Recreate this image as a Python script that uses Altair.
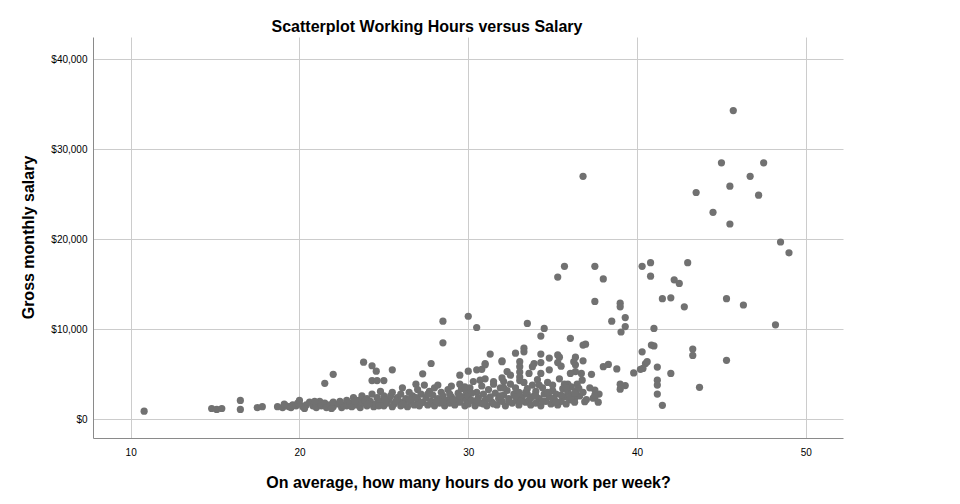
import altair as alt
import pandas as pd

# (hours per week, gross monthly salary in $)
high_pay = [
    (45.7, 34300), (36.8, 27000), (45.0, 28500), (47.5, 28500), (46.7, 27000),
    (43.5, 25200), (45.5, 25900), (47.2, 24900), (44.5, 23000), (45.5, 21700),
    (48.5, 19700), (49.0, 18500), (35.3, 15800), (35.7, 17000), (37.5, 17000),
    (38.0, 15600), (40.3, 17000), (40.8, 17400), (40.8, 15900), (43.0, 17400),
    (42.2, 15500), (42.5, 15100), (41.5, 13400), (42.0, 13500), (42.8, 12500),
    (45.3, 13400), (46.3, 12700), (37.5, 13100), (39.0, 12900), (39.0, 12500),
]

upper_mid = [
    (48.2, 10500), (39.3, 11300), (38.5, 10900), (39.3, 10300), (39.05, 9700),
    (41.0, 10100), (40.3, 7500), (40.85, 8250), (41.0, 8150), (43.3, 7800),
    (43.3, 7100), (28.5, 10900), (28.5, 8500), (30.0, 11450), (30.5, 10200),
    (33.5, 10650), (34.5, 10100), (34.3, 9250), (36.05, 9000), (36.8, 8250),
    (36.95, 8350), (31.3, 7250), (32.8, 7350), (33.3, 7900), (33.3, 7500),
    (34.3, 7250), (35.3, 7150),
]

right_side = [
    (45.3, 6550), (43.7, 3550), (41.2, 4350), (41.2, 3800), (41.2, 2800),
    (41.5, 1550), (40.5, 6200), (40.6, 6400), (40.35, 5650), (40.2, 5550),
    (39.8, 5150), (41.2, 5800), (42.0, 5100), (38.0, 5850), (38.3, 6100),
    (38.8, 5600), (39.0, 3900), (39.3, 3750), (39.0, 3350), (37.5, 3250),
    (37.75, 2800), (37.5, 2450), (37.4, 2350), (36.9, 1950), (36.1, 2150),
    (36.3, 2350), (36.75, 4350), (36.45, 3900), (36.55, 3450), (35.9, 3900),
    (35.7, 3900), (36.7, 5100), (37.3, 5000), (36.8, 6500), (36.35, 6900),
    (36.35, 6050), (36.25, 6400), (36.35, 5300), (36.05, 5100),
]

left_mid = [
    (21.5, 4000), (22.0, 5000), (23.8, 6350), (24.3, 5950), (24.55, 5350),
    (24.3, 4300), (24.6, 4300), (25.0, 4300), (25.5, 5500), (27.8, 6200),
    (27.3, 5050), (29.5, 4900), (30.0, 5350), (30.5, 5500), (29.5, 3900),
    (30.8, 5550), (31.0, 6050), (31.0, 6200), (32.0, 6400), (32.0, 6500),
    (32.3, 5300), (32.5, 4900), (33.05, 6400), (33.05, 5850), (33.05, 5250),
    (33.05, 4700), (33.05, 4300), (33.6, 5100), (33.9, 6200), (34.3, 6300),
    (33.8, 5850), (34.3, 5100), (34.8, 5500), (34.8, 6800), (35.4, 6900),
    (35.3, 6300), (35.5, 5900), (30.7, 4350), (31.5, 4200), (32.1, 4200),
]

low_hours = [
    (10.8, 900), (14.8, 1200), (15.1, 1100), (15.4, 1200), (16.5, 2100),
    (16.5, 1100), (17.5, 1300), (17.8, 1400), (18.7, 1400), (19.0, 1300),
    (19.2, 1500), (19.4, 1400), (19.6, 1600), (19.5, 1300), (19.8, 1500),
    (19.9, 1800), (20.0, 1700), (20.0, 2100), (20.2, 1400), (20.4, 1600),
    (20.6, 1900), (20.8, 1500), (21.0, 1700), (21.0, 1300), (21.2, 2000),
    (21.3, 1500), (21.5, 1800), (21.6, 1300), (21.8, 1600), (22.0, 1400),
    (22.0, 1900), (22.3, 1700), (22.5, 1300), (22.6, 1600), (22.8, 2100),
    (22.8, 1500), (19.1, 1700), (20.3, 1200), (20.9, 2000), (21.9, 1200),
    (22.4, 2000),
]

band = [
    (23.0, 1800), (23.1, 1400), (23.2, 2400), (23.4, 1600), (23.5, 2100),
    (23.6, 1300), (23.7, 2600), (23.8, 1800), (24.0, 1500), (24.0, 2300),
    (24.2, 2000), (24.3, 2800), (24.4, 1400), (24.5, 1700), (24.6, 2400),
    (24.8, 2000), (24.8, 3100), (25.0, 1500), (25.0, 2600), (25.2, 1800),
    (25.3, 2200), (25.5, 1400), (25.5, 3000), (25.6, 1700), (25.8, 2400),
    (25.9, 2000), (26.0, 1500), (26.0, 2800), (26.1, 3500), (26.2, 1900),
    (26.3, 2300), (26.4, 1400), (26.5, 3000), (26.6, 2000), (26.7, 2600),
    (26.8, 1600), (26.9, 3900), (27.0, 2200), (27.0, 3300), (27.1, 1500),
    (27.2, 2800), (27.3, 1900), (27.4, 3800), (27.5, 2400), (27.6, 1600),
    (27.7, 3100), (27.8, 2000), (27.9, 2700), (28.0, 1500), (28.0, 3500),
    (28.2, 2300), (28.2, 3800), (28.3, 1800), (28.4, 3000), (28.5, 2600),
    (28.6, 1500), (28.7, 2100), (28.8, 3300), (28.9, 1800), (29.0, 2500),
    (29.0, 3700), (29.2, 1600), (29.3, 2200), (29.4, 2900), (29.5, 1900),
    (29.6, 3400), (29.7, 2500), (29.8, 1500), (29.9, 2100), (29.9, 3000),
    (30.0, 1700), (30.0, 2600), (30.1, 3500), (30.2, 2100), (30.3, 4200),
    (30.4, 1500), (30.5, 3000), (30.6, 2400), (30.7, 1800), (30.8, 3700),
    (30.9, 2800), (31.0, 2100), (31.0, 4500), (31.1, 1500), (31.2, 3300),
    (31.3, 2500), (31.4, 1900), (31.5, 3900), (31.6, 2900), (31.7, 1600),
    (31.8, 2300), (31.9, 3500), (32.0, 2000), (32.0, 4600), (32.1, 2700),
    (32.2, 1500), (32.3, 3200), (32.4, 2300), (32.5, 3900), (32.6, 1800),
    (32.7, 2800), (32.8, 3500), (32.9, 2100), (33.0, 1600), (33.0, 3000),
    (33.2, 2500), (33.3, 4100), (33.4, 1900), (33.5, 3400), (33.5, 2800),
    (33.6, 2100), (33.7, 1600), (33.8, 3800), (33.9, 2600), (34.0, 3100),
    (34.0, 1800), (34.1, 4400), (34.2, 2300), (34.3, 1500), (34.4, 3500),
    (34.5, 2800), (34.6, 2000), (34.7, 4100), (34.8, 2500), (34.9, 1700),
    (35.0, 3200), (35.0, 3800), (35.1, 2200), (35.2, 2800), (35.3, 1600),
    (35.4, 4500), (35.5, 2000), (35.6, 3400), (35.7, 2500), (35.8, 1700),
    (35.9, 3000), (36.0, 2200), (36.1, 3600), (36.2, 2700), (36.3, 1900),
    (36.4, 3200), (36.6, 2600), (36.8, 3000), (37.0, 2200), (37.2, 3500),
    (37.5, 2700), (37.7, 1900),
]

# extra dots where the band is solid in the reference
band_fill = [
    (23.3, 2000), (23.9, 2100), (24.1, 1700), (24.7, 1500), (25.1, 2100),
    (25.4, 2600), (25.7, 2000), (26.1, 1700), (26.5, 2200), (26.9, 2400),
    (27.2, 1800), (27.6, 2800), (28.1, 2000), (28.5, 1900), (28.9, 2800),
    (29.1, 2100), (29.5, 2600), (29.8, 3600), (30.2, 2900), (30.5, 2100),
    (30.9, 1700), (31.2, 2300), (31.5, 1700), (31.9, 2600), (32.1, 3500),
    (32.4, 2000), (32.8, 2500), (33.1, 2000), (33.4, 3000), (33.7, 2400),
    (34.0, 2600), (34.2, 3800), (34.4, 2000), (34.7, 3000), (35.0, 2300),
    (35.2, 1900), (35.5, 2700), (35.8, 3500), (36.1, 2500), (36.3, 2900),
]

x_ticks = [10, 20, 30, 40, 50]
y_ticks = [0, 10000, 20000, 30000, 40000]

df = pd.DataFrame(high_pay + upper_mid + right_side + left_mid + low_hours + band + band_fill,
                  columns=["hours", "salary"])

font = "Liberation Sans"

chart = alt.Chart(df).mark_circle(size=52, color="#717171", opacity=1).encode(
    alt.X("hours:Q",
          scale=alt.Scale(domain=[7.77, 52.2], nice=False, zero=False),
          axis=alt.Axis(values=x_ticks, title="On average, how many hours do you work per week?",
                        ticks=False, tickSize=0, labelPadding=9, labelFontSize=10,
                        titleY=49, titleBaseline="alphabetic", titleFontSize=16)),
    alt.Y("salary:Q",
          scale=alt.Scale(domain=[-2080, 42480], nice=False, zero=False),
          axis=alt.Axis(values=y_ticks, format="$,.0f", title="Gross monthly salary",
                        ticks=False, tickSize=0, labelPadding=6, labelFontSize=10,
                        titleX=-60, titleY=200, titleAngle=270, titleAlign="center",
                        titleBaseline="alphabetic", titleFontSize=16)),
).properties(
    width=750, height=401,
    title=alt.TitleParams("Scatterplot Working Hours versus Salary", font=font, fontSize=16,
                          fontWeight="bold", color="black", anchor="middle", frame="group",
                          dx=-41, dy=17, offset=6, baseline="alphabetic"),
    autosize=alt.AutoSizeParams(type="none"),
    padding={"left": 85, "top": 29, "right": 109, "bottom": 58},
).configure_view(
    stroke=None
).configure_axis(
    labelFont=font, titleFont=font, labelColor="black", titleColor="black",
    titleFontWeight="bold", gridColor="#cccccc", gridOpacity=1, gridWidth=1,
    domainColor="#8a8a8a", domainWidth=1
)

chart.save("out.html", embed_options={"renderer": "svg", "actions": False})
